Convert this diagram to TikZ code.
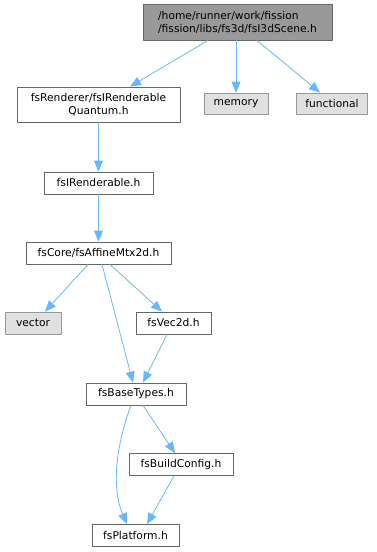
\documentclass[tikz,border=0pt]{standalone}
\usepackage{fontspec}
\setmainfont{DejaVu Sans}
\usepackage{xcolor}
\usetikzlibrary{arrows.meta}

\definecolor{edgeblue}{HTML}{63B8FF}
\definecolor{boxline}{HTML}{666666}
\definecolor{sysline}{HTML}{999999}
\definecolor{sysfill}{HTML}{E0E0E0}
\definecolor{rootfill}{HTML}{999999}

\begin{document}
\begin{tikzpicture}[
			x=1pt,
			y=-1pt,
			>={Triangle[length=11pt,width=9pt]},
			line join=round,
			font=\fontsize{10.7}{13}\selectfont,
			filebox/.style={
				draw=boxline,
				fill=white,
				line width=0.8pt,
				inner sep=0pt,
				minimum height=22pt
			},
			rootbox/.style={
				filebox,
				fill=rootfill,
				align=left,
				minimum height=36pt
			},
			sysbox/.style={
				filebox,
				draw=sysline,
				fill=sysfill,
				minimum height=21pt
			},
			edge/.style={
				->,
				draw=edgeblue,
				line width=0.8pt
			}
			]
			
			% 크기
			\useasboundingbox (0,0) rectangle (377,552);
			
			% 파일 상자
			\node[rootbox,minimum width=189pt] (root) at (237.5,22)
			{/home/runner/work/fission\\/fission/libs/fs3d/fsI3dScene.h};
			
			\node[filebox,align=center,minimum width=163pt,minimum height=35pt] (quantum) at (98.5,104.5)
			{fsRenderer/fsIRenderable\\Quantum.h};
			\node[sysbox,minimum width=64pt] (memory) at (236,103.5) {memory};
			\node[sysbox,minimum width=71pt] (functional) at (332,103.5) {functional};
			
			\node[filebox,minimum width=109pt] (irend) at (98.5,183) {fsIRenderable.h};
			\node[filebox,minimum width=145pt] (affine) at (98.5,253) {fsCore/fsAffineMtx2d.h};
			
			\node[sysbox,minimum width=56pt,minimum height=22pt] (vector) at (33,323) {vector};
			\node[filebox,minimum width=75pt] (vec2d) at (173.5,323) {fsVec2d.h};
			
			\node[filebox,minimum width=100pt] (basetypes) at (136,394) {fsBaseTypes.h};
			\node[filebox,minimum width=104pt] (buildconfig) at (181,464.5) {fsBuildConfig.h};
			\node[filebox,minimum width=87pt] (platform) at (135.5,535.5) {fsPlatform.h};
			
			% 화살표
			\draw[edge] ([xshift=-29.5pt]root.south) -- ([xshift=31.5pt]quantum.north);
			\draw[edge] (root.south -| memory.north) -- (memory.north);
			\draw[edge] ([xshift=19.5pt]root.south) -- ([xshift=-12pt]functional.north);
			
			\draw[edge] (quantum.south) -- (irend.north);
			\draw[edge] (irend.south) -- (affine.north);
			
			\draw[edge] ([xshift=-10.5pt]affine.south) -- ([xshift=12pt]vector.north);
			\draw[edge] ([xshift=11.5pt]affine.south) -- ([xshift=-11.5pt]vec2d.north);
			\draw[edge] ([xshift=3.5pt]affine.south) -- ([xshift=-3pt]basetypes.north);
			\draw[edge] ([xshift=-6.5pt]vec2d.south) -- ([xshift=7pt]basetypes.north);
			
			\draw[edge] ([xshift=7pt]basetypes.south) -- ([xshift=-6pt]buildconfig.north);
			\draw[edge] ([xshift=-5pt]basetypes.south)
			.. controls (118,440) and (110,485) .. ([xshift=-8.5pt]platform.north);
			\draw[edge] ([xshift=-7pt]buildconfig.south) -- ([xshift=11.5pt]platform.north);
			
		\end{tikzpicture}
\end{document}
